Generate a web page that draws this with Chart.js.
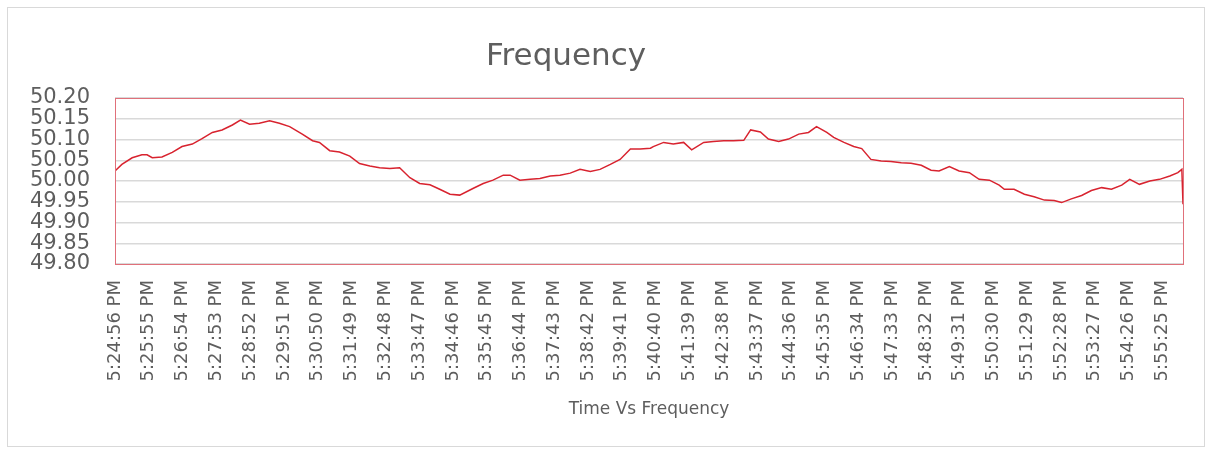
<!DOCTYPE html>
<html>
<head>
<meta charset="utf-8">
<script src="https://cdn.jsdelivr.net/npm/chart.js@4/dist/chart.umd.min.js"></script>
<style>
    html, body { margin: 0; padding: 0; background: #fff; }
    #wrap { width: 1212px; height: 453px; position: relative; }
</style>
</head>
<body>
<div id="wrap"><canvas id="ctx"></canvas></div>
<script>
const chartTitle = 'Frequency';
const axisTitle = 'Time Vs Frequency';

// x axis labels, one every 59 seconds
const tickLabels = [
    '5:24:56 PM', '5:25:55 PM', '5:26:54 PM', '5:27:53 PM', '5:28:52 PM', '5:29:51 PM',
    '5:30:50 PM', '5:31:49 PM', '5:32:48 PM', '5:33:47 PM', '5:34:46 PM', '5:35:45 PM',
    '5:36:44 PM', '5:37:43 PM', '5:38:42 PM', '5:39:41 PM', '5:40:40 PM', '5:41:39 PM',
    '5:42:38 PM', '5:43:37 PM', '5:44:36 PM', '5:45:35 PM', '5:46:34 PM', '5:47:33 PM',
    '5:48:32 PM', '5:49:31 PM', '5:50:30 PM', '5:51:29 PM', '5:52:28 PM', '5:53:27 PM',
    '5:54:26 PM', '5:55:25 PM'
];

// seconds since 5:24:56 PM
const elapsed = [
    0, 12, 30, 47, 56, 65, 82, 100, 117, 135, 152, 170, 187, 205, 219, 235, 252, 270, 287, 305,
    327, 345, 357, 375, 392, 410, 427, 445, 462, 480, 497, 515, 532, 550, 567, 585, 602, 625,
    643, 660, 678, 690, 707, 725, 742, 760, 777, 795, 812, 830, 847, 865, 882, 900, 917, 935,
    940, 958, 975, 993, 1007, 1028, 1045, 1063, 1080, 1098, 1110, 1127, 1141, 1159, 1176, 1194,
    1211, 1225, 1243, 1255, 1273, 1290, 1304, 1320, 1338, 1355, 1373, 1390, 1408, 1425, 1439,
    1457, 1474, 1492, 1509, 1527, 1544, 1553, 1570, 1588, 1605, 1623, 1640, 1653, 1670, 1688,
    1705, 1723, 1740, 1758, 1772, 1789, 1807, 1824, 1842, 1856, 1863, 1865
];

const frequency = [
    50.024, 50.040, 50.056, 50.063, 50.063, 50.056, 50.058, 50.069, 50.083, 50.089, 50.102, 50.117,
    50.123, 50.135, 50.147, 50.137, 50.139, 50.145, 50.139, 50.131,
    50.113, 50.097, 50.093, 50.073, 50.070, 50.060, 50.042, 50.036, 50.032, 50.030, 50.032, 50.008,
    49.994, 49.991, 49.980, 49.968, 49.966, 49.982,
    49.994, 50.002, 50.014, 50.014, 50.002, 50.004, 50.006, 50.012, 50.014, 50.019, 50.028, 50.023,
    50.028, 50.040, 50.052, 50.077, 50.077, 50.079,
    50.083, 50.093, 50.089, 50.093, 50.075, 50.093, 50.095, 50.097, 50.097, 50.098, 50.123, 50.118,
    50.101, 50.095, 50.101, 50.113,
    50.117, 50.131, 50.117, 50.105, 50.093, 50.083, 50.078, 50.052, 50.048, 50.047, 50.044, 50.043,
    50.038, 50.026, 50.024,
    50.035, 50.024, 50.020, 50.004, 50.002, 49.990, 49.980, 49.980, 49.968, 49.962, 49.954, 49.953,
    49.948, 49.957, 49.965,
    49.977, 49.984, 49.980, 49.990, 50.004, 49.992, 50.000, 50.004, 50.012, 50.020, 50.028, 49.944
];

const yMin = 49.80, yMax = 50.20, yStep = 0.05;

function toSeconds(label) {
    let [h, m, rest] = label.split(':');
    let s = parseInt(rest, 10);
    let hour = parseInt(h, 10) % 12 + (label.indexOf('PM') > -1 ? 12 : 0);
    return hour * 3600 + parseInt(m, 10) * 60 + s;
}

const start = toSeconds(tickLabels[0]);
const tickSeconds = tickLabels.map(l => toSeconds(l) - start);

const textGrey = '#5e5e5e';

const framePlugin = {
    id: 'frame',
    beforeDraw: function (chart) {
        let c = chart.ctx;
        c.save();
        c.fillStyle = '#fff';
        c.fillRect(0, 0, chart.width, chart.height);
        c.strokeStyle = '#d9d9d9';
        c.lineWidth = 1;
        c.strokeRect(7.5, 7.5, chart.width - 15, chart.height - 14);
        c.restore();
    },
    afterDatasetsDraw: function (chart) {
        let c = chart.ctx, a = chart.chartArea;
        c.save();
        c.strokeStyle = '#e0707a';
        c.lineWidth = 1;
        c.strokeRect(Math.round(a.left) + 0.5, Math.round(a.top) + 0.5,
            Math.round(a.right - a.left), Math.round(a.bottom - a.top));
        c.restore();
    },
    afterDraw: function (chart) {
        let c = chart.ctx;
        c.save();
        c.font = '31px "DejaVu Sans"';
        c.fillStyle = textGrey;
        c.textAlign = 'center';
        c.textBaseline = 'middle';
        c.fillText(chartTitle, 566, 57);
        c.restore();
    }
};

let myLineChart = new Chart(document.getElementById('ctx'), {
    type: 'line',
    data: {
        datasets: [{
            label: chartTitle,
            data: elapsed.map((x, i) => ({x: x, y: frequency[i]})),
            borderColor: '#d8232f',
            borderWidth: 1.5,
            pointRadius: 0,
            tension: 0,
            fill: false
        }]
    },
    options: {
        responsive: true,
        maintainAspectRatio: false,
        animation: false,
        layout: {padding: {left: 8, right: 29, top: 98, bottom: 10}},
        plugins: {
            legend: {display: false},
            title: {display: false},
            tooltip: {enabled: false}
        },
        scales: {
            x: {
                type: 'linear',
                min: 0,
                max: elapsed[elapsed.length - 1],
                afterBuildTicks: function (scale) {
                    scale.ticks = tickSeconds.map(v => ({value: v}));
                },
                afterFit: function (scale) {
                    scale.height = 179;
                },
                grid: {display: false, drawTicks: false},
                border: {display: true, color: '#d9d9d9', width: 1},
                ticks: {
                    autoSkip: false,
                    minRotation: 90,
                    maxRotation: 90,
                    padding: 16,
                    color: textGrey,
                    font: {family: 'DejaVu Sans', size: 18},
                    callback: function (value) {
                        let i = tickSeconds.indexOf(value);
                        return i > -1 ? tickLabels[i] : '';
                    }
                },
                title: {
                    display: true,
                    text: axisTitle,
                    color: textGrey,
                    font: {family: 'DejaVu Sans', size: 17},
                    padding: {top: 0, bottom: 23}
                }
            },
            y: {
                min: yMin,
                max: yMax,
                afterFit: function (scale) {
                    scale.width = 107;
                },
                grid: {color: '#d9d9d9', lineWidth: 1.5, drawTicks: false},
                border: {display: false},
                ticks: {
                    stepSize: yStep,
                    autoSkip: false,
                    padding: 25,
                    color: textGrey,
                    font: {family: 'DejaVu Sans', size: 21, lineHeight: 1},
                    callback: function (value) {
                        return value.toFixed(2);
                    }
                }
            }
        }
    },
    plugins: [framePlugin]
});
</script>
</body>
</html>
